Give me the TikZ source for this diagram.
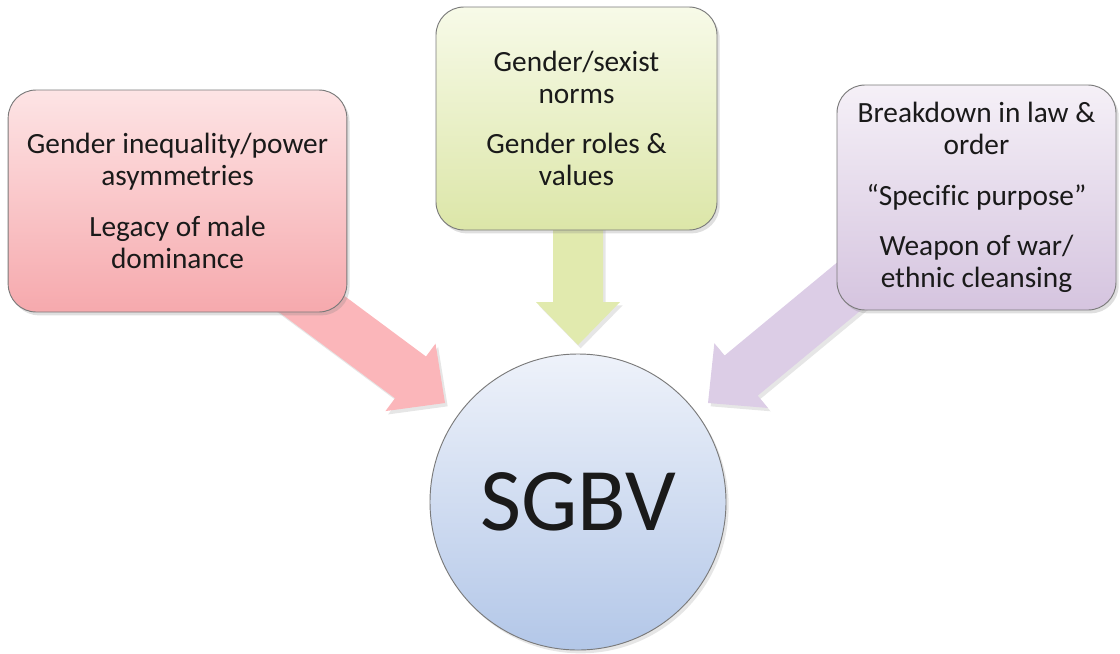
\documentclass[tikz,border=0pt]{standalone}
\usepackage{fontspec}
\setmainfont{Carlito}[Ligatures=NoCommon]
\usetikzlibrary{shadows}
\definecolor{pinkTop}{HTML}{FDE4E5}
\definecolor{pinkBot}{HTML}{F6A9AD}
\definecolor{greenTop}{HTML}{F7FAE8}
\definecolor{greenBot}{HTML}{DCE6A8}
\definecolor{purpTop}{HTML}{F5F0F7}
\definecolor{purpBot}{HTML}{D5C4DF}
\definecolor{circTop}{HTML}{EEF2FA}
\definecolor{circBot}{HTML}{B3C7E8}
\definecolor{pinkArr}{HTML}{FBB6BA}
\definecolor{greenArr}{HTML}{E1EAAE}
\definecolor{purpArr}{HTML}{DCCDE6}
\definecolor{edgeGray}{HTML}{7A7A7A}
\definecolor{txt}{HTML}{1A1A1A}
\tikzset{
  boxshape/.style={rectangle, rounded corners=21pt, draw=edgeGray, line width=0.7pt,
    align=center, text=txt, font=\fontsize{22}{24}\selectfont, inner sep=0pt,
    drop shadow={shadow xshift=2pt, shadow yshift=-2.5pt, opacity=0.25}},
  blockarrow/.style={drop shadow={shadow xshift=2pt, shadow yshift=-2.5pt, opacity=0.2}},
  hubshape/.style={circle, draw=edgeGray, line width=0.7pt, inner sep=0pt,
    minimum size=222pt, top color=circTop, bottom color=circBot, text=txt,
    font=\fontsize{67}{67}\selectfont,
    drop shadow={shadow xshift=2pt, shadow yshift=-2.5pt, opacity=0.2}}
}
\begin{document}
\begin{tikzpicture}[x=0.75pt, y=-0.75pt]
\useasboundingbox (0,0) rectangle (1120,653);
% arrow tip coordinates
\coordinate (ptip) at (445,403);
\coordinate (gtip) at (578,345);
\coordinate (vtip) at (708,403);
% block arrows (drawn beneath boxes)
\begin{scope}[shift={(ptip)}, rotate=-36.6]
  \fill[pinkArr, blockarrow] (0,0) -- (-43,42) -- (-43,26) -- (-210,26) -- (-210,-26) -- (-43,-26) -- (-43,-42) -- cycle;
\end{scope}
\begin{scope}[shift={(gtip)}, rotate=-90]
  \fill[greenArr, blockarrow] (0,0) -- (-43,42) -- (-43,25) -- (-125,25) -- (-125,-25) -- (-43,-25) -- (-43,-42) -- cycle;
\end{scope}
\begin{scope}[shift={(vtip)}, rotate=-140.4]
  \fill[purpArr, blockarrow] (0,0) -- (-43,42) -- (-43,26) -- (-210,26) -- (-210,-26) -- (-43,-26) -- (-43,-42) -- cycle;
\end{scope}
% boxes
\node[boxshape, minimum width=254pt, minimum height=166.5pt, top color=pinkTop, bottom color=pinkBot]
  (left) at (177.5,201) {Gender inequality/power\\asymmetries\\[14pt]Legacy of male\\dominance};
\node[boxshape, minimum width=210.75pt, minimum height=167.25pt, top color=greenTop, bottom color=greenBot]
  (mid) at (576.5,118.5) {Gender/sexist\\norms\\[14pt]Gender roles \&\\values};
\node[boxshape, minimum width=209.25pt, minimum height=168.75pt, top color=purpTop, bottom color=purpBot]
  (right) at (976.5,197.5) {Breakdown in law \&\\order\\[14pt]“Specific purpose”\\[14pt]Weapon of war/\\ethnic cleansing};
% hub
\node[hubshape] (hub) at (578,502) {SGBV};
\end{tikzpicture}
\end{document}
